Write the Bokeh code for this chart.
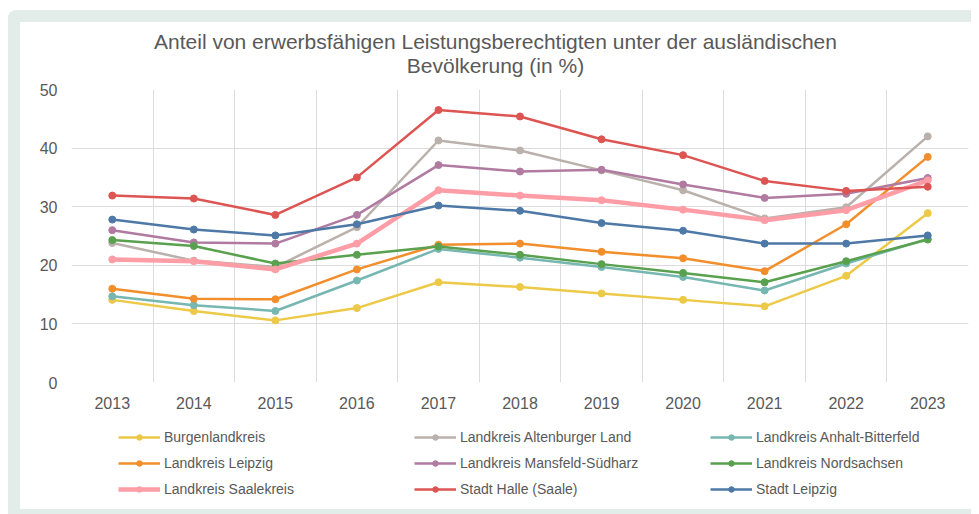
from bokeh.plotting import figure
from bokeh.models import FixedTicker, Legend, LegendItem, Range1d, ColumnDataSource, Div
from bokeh.layouts import column
from bokeh.embed import file_html
from bokeh.resources import INLINE

years = ["2013", "2014", "2015", "2016", "2017", "2018", "2019", "2020", "2021", "2022", "2023"]

burgenlandkreis = [14.1, 12.2, 10.6, 12.7, 17.1, 16.3, 15.2, 14.1, 13.0, 18.2, 28.9]
altenburger_land = [23.8, 20.8, 19.7, 26.5, 41.3, 39.6, 36.2, 32.8, 28.0, 29.9, 42.0]
anhalt_bitterfeld = [14.7, 13.2, 12.2, 17.4, 22.8, 21.3, 19.7, 18.0, 15.7, 20.3, 24.5]
lk_leipzig = [16.0, 14.3, 14.2, 19.3, 23.5, 23.7, 22.3, 21.2, 19.0, 27.0, 38.5]
mansfeld_suedharz = [26.0, 23.9, 23.7, 28.6, 37.1, 36.0, 36.3, 33.8, 31.5, 32.2, 34.9]
nordsachsen = [24.3, 23.3, 20.3, 21.8, 23.2, 21.8, 20.2, 18.7, 17.1, 20.7, 24.4]
saalekreis = [21.0, 20.7, 19.3, 23.7, 32.8, 31.9, 31.1, 29.5, 27.7, 29.4, 34.5]
halle = [31.9, 31.4, 28.6, 35.0, 46.5, 45.4, 41.5, 38.8, 34.4, 32.7, 33.4]
stadt_leipzig = [27.8, 26.1, 25.1, 27.0, 30.2, 29.3, 27.2, 25.9, 23.7, 23.7, 25.1]

series_names = [
    "Burgenlandkreis", "Landkreis Altenburger Land", "Landkreis Anhalt-Bitterfeld",
    "Landkreis Leipzig", "Landkreis Mansfeld-Südharz", "Landkreis Nordsachsen",
    "Landkreis Saalekreis", "Stadt Halle (Saale)", "Stadt Leipzig",
]
series_values = [
    burgenlandkreis, altenburger_land, anhalt_bitterfeld,
    lk_leipzig, mansfeld_suedharz, nordsachsen,
    saalekreis, halle, stadt_leipzig,
]
colors = ["#edc948", "#bab0ac", "#76b7b2", "#f28e2b", "#b07aa1", "#59a14f", "#ff9da7", "#dc5552", "#4e79a7"]
widths = [2.5, 2.5, 2.5, 2.5, 2.5, 2.5, 4.5, 2.5, 2.5]

title_lines = ["Anteil von erwerbsfähigen Leistungsberechtigten unter der ausländischen", "Bevölkerung (in %)"]
y_ticks = [0, 10, 20, 30, 40, 50]

FONT = "Liberation Sans"
TXT = "#595959"
GRID = "#dcdcdc"
FRAME_BG = "#e2ece9"

xs = list(range(len(years)))

title_div = Div(text="<br>".join(title_lines), width=951, height=60, margin=(12, 0, 0, 12),
                styles={"background-color": "white", "font-family": FONT, "font-size": "21px",
                        "color": TXT, "text-align": "center", "line-height": "24px",
                        "padding-top": "8px", "box-sizing": "border-box"})

p = figure(width=951, height=334, output_backend="svg", toolbar_location=None,
           x_range=Range1d(-0.5, len(years) - 0.5), y_range=Range1d(0, 50),
           min_border_left=51, min_border_right=3, min_border_top=7, min_border_bottom=34)
p.margin = (0, 0, 0, 12)
p.styles = {"background-color": "white"}
p.background_fill_color = None
p.border_fill_color = None
p.outline_line_color = None

p.xaxis.ticker = FixedTicker(ticks=xs)
p.xaxis.major_label_overrides = {i: y for i, y in enumerate(years)}
p.yaxis.ticker = FixedTicker(ticks=y_ticks)
for ax in (p.xaxis[0], p.yaxis[0]):
    ax.axis_line_color = None
    ax.major_tick_line_color = None
    ax.minor_tick_line_color = None
    ax.major_tick_out = 0
    ax.major_tick_in = 0
    ax.major_label_text_font = FONT
    ax.major_label_text_font_size = "16px"
    ax.major_label_text_color = TXT
p.xaxis.major_label_standoff = 14
p.yaxis.major_label_standoff = 14

p.xgrid.ticker = FixedTicker(ticks=[i - 0.5 for i in range(len(years) + 1)])
p.ygrid.ticker = FixedTicker(ticks=y_ticks[1:])
p.xgrid.grid_line_color = GRID
p.ygrid.grid_line_color = GRID
p.xgrid.grid_line_width = 1
p.ygrid.grid_line_width = 1

# legend-only figure below the chart (its view range shows none of the data)
lg = figure(width=951, height=93, output_backend="svg", toolbar_location=None,
            x_range=Range1d(-3, -2), y_range=Range1d(-3, -2),
            x_axis_type=None, y_axis_type=None,
            min_border_left=0, min_border_right=0, min_border_top=0, min_border_bottom=0)
lg.margin = (0, 0, 5, 12)
lg.styles = {"background-color": "white"}
lg.background_fill_color = None
lg.border_fill_color = None
lg.outline_line_color = None

items = []
for name, vals, c, w in zip(series_names, series_values, colors, widths):
    src = ColumnDataSource(dict(x=xs, y=vals))
    p.line("x", "y", source=src, line_color=c, line_width=w)
    p.scatter("x", "y", source=src, size=7, fill_color=c, line_color=c)
    l1 = lg.line("x", "y", source=src, line_color=c, line_width=w)
    l2 = lg.scatter("x", "y", source=src, size=6, fill_color=c, line_color=c)
    items.append(LegendItem(label=name, renderers=[l1, l2]))

legend = Legend(items=items, ncols=3, orientation="horizontal", location=(47, 7),
                padding=0, margin=0, spacing=0, glyph_width=42, glyph_height=14,
                label_width=250, label_height=26, label_standoff=4,
                label_text_font=FONT, label_text_font_size="14px", label_text_color=TXT,
                border_line_color=None, background_fill_alpha=0)
lg.add_layout(legend, "center")

layout = column(title_div, p, lg, styles={"background-color": FRAME_BG, "border-top-left-radius": "8px"})
layout.margin = (10, 0, 0, 8)

open("out.html", "w").write(file_html(layout, INLINE))
